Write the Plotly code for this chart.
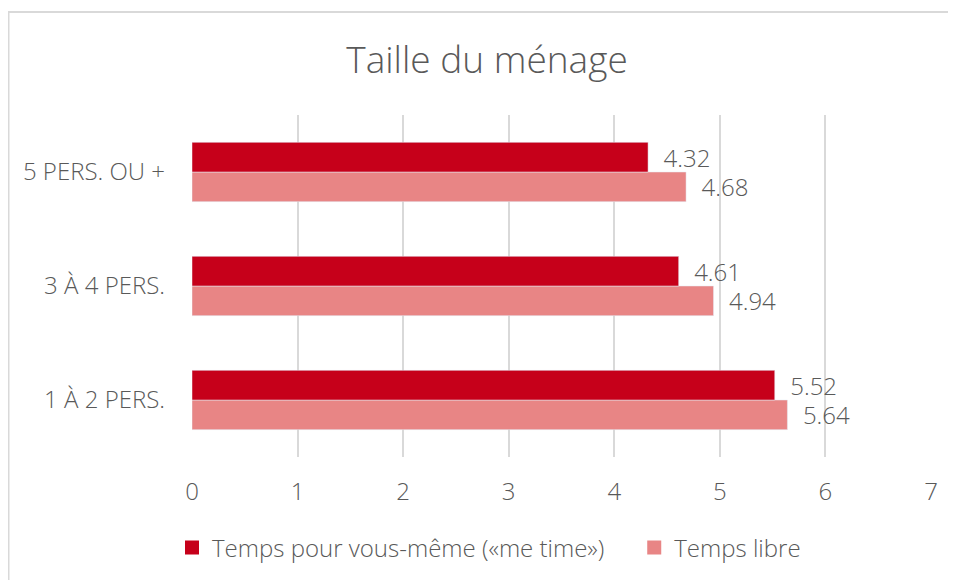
import plotly.graph_objects as go

categories = ["1 À 2 PERS.", "3 À 4 PERS.", "5 PERS. OU +"]
me_time = [5.52, 4.61, 4.32]
temps_libre = [5.64, 4.94, 4.68]
series_names = ["Temps pour vous-même («me time»)", "Temps libre"]
x_ticks = [0, 1, 2, 3, 4, 5, 6, 7]

FONT = "Open Sans"
GREY = "#595959"
FS = 24
DARK = "#C6001A"
LIGHT = "#E88585"

# page body adds an 8px offset; figure coords = screen - 8
PL, PR, PT, PB = 184, 923, 107, 449

fig = go.Figure()
fig.add_trace(go.Bar(
    y=categories, x=temps_libre, name=series_names[1], orientation="h",
    marker=dict(color=LIGHT), showlegend=False,
    text=[f"  {v:.2f}" for v in temps_libre], textposition="outside",
    textfont=dict(family=FONT, size=FS, color=GREY, weight=300),
    constraintext="none", cliponaxis=False,
))
fig.add_trace(go.Bar(
    y=categories, x=me_time, name=series_names[0], orientation="h",
    marker=dict(color=DARK), showlegend=False,
    text=[f"  {v:.2f}" for v in me_time], textposition="outside",
    textfont=dict(family=FONT, size=FS, color=GREY, weight=300),
    constraintext="none", cliponaxis=False,
))
# legend entries with square swatches
for name, col, rank in [(series_names[0] + "\u00a0" * 4, DARK, 1), (series_names[1], LIGHT, 2)]:
    fig.add_trace(go.Scatter(
        x=[None], y=[None], mode="markers", name=name, legendrank=rank,
        marker=dict(symbol="square", size=14, color=col), showlegend=True,
    ))

fig.update_layout(
    width=956, height=580,
    margin=dict(l=PL, r=956 - PR, t=PT, b=580 - PB),
    paper_bgcolor="white", plot_bgcolor="white",
    barmode="group", bargap=0.48, bargroupgap=0,
    font=dict(family=FONT, color=GREY, weight=300),
    title=dict(text="Taille du ménage", x=479/956, xref="container", xanchor="center",
               y=1 - 52/580, yref="container", yanchor="middle",
               font=dict(family=FONT, size=37, color=GREY, weight=300)),
    showlegend=True,
    legend=dict(orientation="h", xref="container", x=481/956, xanchor="center",
                yref="container", y=1 - 540/580, yanchor="middle",
                font=dict(family=FONT, size=FS, color=GREY, weight=300),
                itemwidth=30),
    xaxis=dict(range=[0, 7], tickvals=x_ticks, showgrid=True, gridcolor="#D9D9D9", gridwidth=1.5,
               zeroline=False, showline=False, ticks="",
               tickfont=dict(family=FONT, size=FS, color=GREY, weight=300),
               ticklabelstandoff=18),
    yaxis=dict(categoryorder="array", categoryarray=categories, range=[-0.5, 2.5],
               showgrid=False, zeroline=False, showline=False, ticks="",
               tickfont=dict(family=FONT, size=FS, color=GREY, weight=300),
               ticklabelstandoff=26),
    shapes=[dict(type="rect", xref="paper", yref="paper",
                 x0=(0.5 - PL) / (PR - PL), x1=1.2, y0=-0.6, y1=(PB - 4) / (PB - PT),
                 line=dict(color="#D9D9D9", width=2), fillcolor="rgba(0,0,0,0)", layer="below")],
)

fig.write_html("out.html")
